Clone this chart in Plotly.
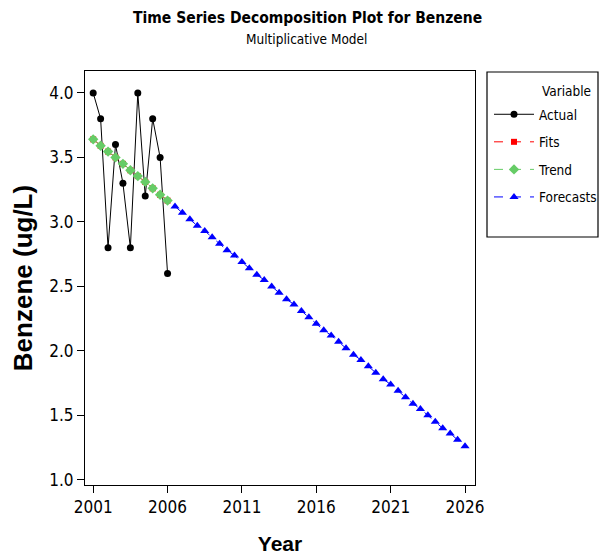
import plotly.graph_objects as go

years_actual = [2001.0, 2001.5, 2002.0, 2002.5, 2003.0, 2003.5, 2004.0, 2004.5, 2005.0, 2005.5, 2006.0]
actual = [4.0, 3.8, 2.8, 3.6, 3.3, 2.8, 4.0, 3.2, 3.8, 3.5, 2.6]
fits = [3.64, 3.59, 3.545, 3.50, 3.45, 3.40, 3.355, 3.31, 3.26, 3.21, 3.165]
trend = [3.64, 3.59, 3.545, 3.50, 3.45, 3.40, 3.355, 3.31, 3.26, 3.21, 3.165]
years_forecast = [2006.5, 2007.0, 2007.5, 2008.0, 2008.5, 2009.0, 2009.5, 2010.0, 2010.5, 2011.0,
                  2011.5, 2012.0, 2012.5, 2013.0, 2013.5, 2014.0, 2014.5, 2015.0, 2015.5, 2016.0,
                  2016.5, 2017.0, 2017.5, 2018.0, 2018.5, 2019.0, 2019.5, 2020.0, 2020.5, 2021.0,
                  2021.5, 2022.0, 2022.5, 2023.0, 2023.5, 2024.0, 2024.5, 2025.0, 2025.5, 2026.0]
forecasts = [3.12, 3.07, 3.02, 2.97, 2.93, 2.88, 2.83, 2.78, 2.74, 2.69,
             2.64, 2.59, 2.55, 2.50, 2.45, 2.40, 2.36, 2.31, 2.26, 2.21,
             2.16, 2.12, 2.07, 2.02, 1.97, 1.93, 1.88, 1.83, 1.78, 1.74,
             1.69, 1.64, 1.59, 1.55, 1.50, 1.45, 1.40, 1.36, 1.31, 1.26]
x_tick_vals = [2001, 2006, 2011, 2016, 2021, 2026]
x_tick_text = ["2001", "2006", "2011", "2016", "2021", "2026"]
y_tick_vals = [1.0, 1.5, 2.0, 2.5, 3.0, 3.5, 4.0]

FC = "DejaVu Sans Condensed, sans-serif"
FB = "Liberation Sans, Arial, sans-serif"

L, R, T, B = 85, 127, 71, 75
PW, PH = 602 - L - R, 560 - T - B


def px_x(p):
    return (p - L) / PW


def px_y(p):
    return 1 - (p - T) / PH


fig = go.Figure()
fig.add_trace(go.Scatter(x=years_actual, y=actual, name="Actual", mode="lines+markers",
                         legendgroup="a", line=dict(color="black", width=1),
                         marker=dict(symbol="circle", size=7, color="black")))
fig.add_trace(go.Scatter(x=years_actual, y=fits, name="Fits", mode="lines+markers",
                         legendgroup="f", line=dict(color="red", width=1, dash="dash"),
                         marker=dict(symbol="square", size=6, color="red")))
fig.add_trace(go.Scatter(x=years_actual, y=trend, name="Trend", mode="lines+markers",
                         legendgroup="t", line=dict(color="#66cc66", width=1, dash="dash"),
                         marker=dict(symbol="diamond", size=8, color="#66cc66")))
fig.add_trace(go.Scatter(x=years_forecast, y=forecasts, name="Forecasts", mode="lines+markers",
                         legendgroup="fc", line=dict(color="blue", width=1, dash="dash"),
                         marker=dict(symbol="triangle-up", size=8, color="blue")))

fig.update_layout(
    width=602, height=560,
    margin=dict(l=L, r=R, t=T, b=B, autoexpand=False),
    paper_bgcolor="white", plot_bgcolor="white",
    font=dict(family=FC, color="black", size=16),
    showlegend=True,
    legend=dict(x=px_x(489), y=px_y(99), xanchor="left", yanchor="top",
                bgcolor="rgba(0,0,0,0)", borderwidth=0, traceorder="grouped",
                font=dict(size=13.5, family=FC), itemwidth=40, tracegroupgap=7),
    shapes=[
        dict(type="rect", xref="paper", yref="paper", x0=px_x(487), x1=px_x(598),
             y0=px_y(237), y1=px_y(72), line=dict(color="black", width=1.2)),
    ],
)
fig.add_annotation(text="<b>Time Series Decomposition Plot for Benzene</b>", xref="paper", yref="paper",
                   x=px_x(307), y=px_y(18), xanchor="center", yanchor="middle",
                   showarrow=False, font=dict(size=15.5, family=FC))
fig.add_annotation(text="Multiplicative Model", xref="paper", yref="paper",
                   x=px_x(306), y=px_y(39), xanchor="center", yanchor="middle",
                   showarrow=False, font=dict(size=13.5, family=FC))
fig.add_annotation(text="Variable", xref="paper", yref="paper",
                   x=px_x(540), y=px_y(91), xanchor="left", yanchor="middle",
                   showarrow=False, font=dict(size=13.5, family=FC))

fig.update_xaxes(range=[2000.45, 2026.67], tickvals=x_tick_vals, ticktext=x_tick_text,
                 ticks="outside", ticklen=7, tickcolor="black", showgrid=False, zeroline=False,
                 showline=True, linecolor="black", linewidth=1, mirror=True, automargin=False,
                 tickfont=dict(size=17, family=FC),
                 title=dict(text="<b>Year</b>", font=dict(size=21, family=FB), standoff=19))
fig.update_yaxes(range=[0.96, 4.17], tickvals=y_tick_vals, tickformat=".1f",
                 ticks="outside", ticklen=7, tickcolor="black", showgrid=False, zeroline=False,
                 showline=True, linecolor="black", linewidth=1, mirror=True, automargin=False,
                 tickfont=dict(size=17, family=FC),
                 title=dict(text="<b>Benzene (ug/L)</b>", font=dict(size=26, family=FB), standoff=9))

fig.write_html("out.html", config={"displayModeBar": False},
               post_script="document.body.style.margin='0';document.body.style.overflow='hidden';")
